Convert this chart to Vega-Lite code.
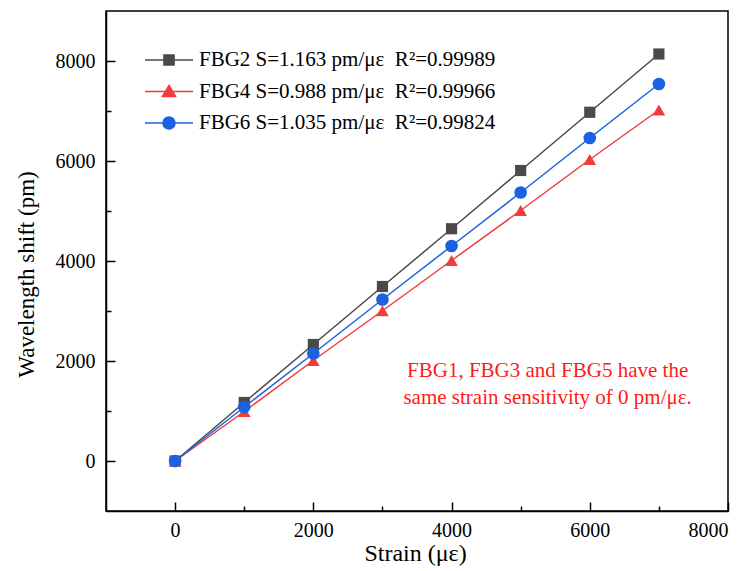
{
  "$schema": "https://vega.github.io/schema/vega-lite/v6.json",
  "width": 622,
  "height": 500,
  "autosize": "none",
  "padding": {"left": 106, "top": 11, "right": 22, "bottom": 60},
  "background": "white",
  "config": {
    "font": "Liberation Serif",
    "view": {"stroke": "black", "strokeWidth": 1.5},
    "legend": {
      "orient": "none",
      "legendX": 52,
      "legendY": 38,
      "padding": 0,
      "title": null,
      "symbolSize": 400,
      "symbolStrokeWidth": 1.6,
      "symbolOpacity": 1,
      "labelFont": "Liberation Serif",
      "labelFontSize": 21,
      "labelColor": "black",
      "labelOffset": 19,
      "rowPadding": 10.5,
      "labelLimit": 0
    },
    "axis": {
      "domainColor": "black",
      "domainWidth": 1.5,
      "tickColor": "black",
      "tickWidth": 1.5,
      "grid": false,
      "labelFont": "Liberation Serif",
      "labelFontSize": 20,
      "labelColor": "black",
      "titleFont": "Liberation Serif",
      "titleFontWeight": "normal",
      "titleColor": "black"
    }
  },
  "data": {
    "values": [
      {"strain": 0, "shift": 0, "series": "FBG2 S=1.163 pm/με\u00a0 R²=0.99989"},
      {"strain": 1000, "shift": 1170, "series": "FBG2 S=1.163 pm/με\u00a0 R²=0.99989"},
      {"strain": 2000, "shift": 2330, "series": "FBG2 S=1.163 pm/με\u00a0 R²=0.99989"},
      {"strain": 3000, "shift": 3490, "series": "FBG2 S=1.163 pm/με\u00a0 R²=0.99989"},
      {"strain": 4000, "shift": 4645, "series": "FBG2 S=1.163 pm/με\u00a0 R²=0.99989"},
      {"strain": 5000, "shift": 5810, "series": "FBG2 S=1.163 pm/με\u00a0 R²=0.99989"},
      {"strain": 6000, "shift": 6975, "series": "FBG2 S=1.163 pm/με\u00a0 R²=0.99989"},
      {"strain": 7000, "shift": 8140, "series": "FBG2 S=1.163 pm/με\u00a0 R²=0.99989"},
      {"strain": 0, "shift": 0, "series": "FBG4 S=0.988 pm/με\u00a0 R²=0.99966"},
      {"strain": 1000, "shift": 990, "series": "FBG4 S=0.988 pm/με\u00a0 R²=0.99966"},
      {"strain": 2000, "shift": 2010, "series": "FBG4 S=0.988 pm/με\u00a0 R²=0.99966"},
      {"strain": 3000, "shift": 3005, "series": "FBG4 S=0.988 pm/με\u00a0 R²=0.99966"},
      {"strain": 4000, "shift": 4010, "series": "FBG4 S=0.988 pm/με\u00a0 R²=0.99966"},
      {"strain": 5000, "shift": 5010, "series": "FBG4 S=0.988 pm/με\u00a0 R²=0.99966"},
      {"strain": 6000, "shift": 6030, "series": "FBG4 S=0.988 pm/με\u00a0 R²=0.99966"},
      {"strain": 7000, "shift": 7020, "series": "FBG4 S=0.988 pm/με\u00a0 R²=0.99966"},
      {"strain": 0, "shift": 0, "series": "FBG6 S=1.035 pm/με\u00a0 R²=0.99824"},
      {"strain": 1000, "shift": 1080, "series": "FBG6 S=1.035 pm/με\u00a0 R²=0.99824"},
      {"strain": 2000, "shift": 2150, "series": "FBG6 S=1.035 pm/με\u00a0 R²=0.99824"},
      {"strain": 3000, "shift": 3230, "series": "FBG6 S=1.035 pm/με\u00a0 R²=0.99824"},
      {"strain": 4000, "shift": 4300, "series": "FBG6 S=1.035 pm/με\u00a0 R²=0.99824"},
      {"strain": 5000, "shift": 5370, "series": "FBG6 S=1.035 pm/με\u00a0 R²=0.99824"},
      {"strain": 6000, "shift": 6460, "series": "FBG6 S=1.035 pm/με\u00a0 R²=0.99824"},
      {"strain": 7000, "shift": 7540, "series": "FBG6 S=1.035 pm/με\u00a0 R²=0.99824"}
    ]
  },
  "layer": [
    {
      "mark": {"type": "line", "strokeWidth": 1.5},
      "encoding": {
        "x": {
          "field": "strain",
          "type": "quantitative",
          "scale": {"domain": [-1000, 8000], "nice": false, "zero": false},
          "axis": {
            "orient": "bottom",
            "title": "Strain (με)",
            "values": [0, 2000, 4000, 6000, 8000],
            "format": "d",
            "tickSize": -9,
            "labelPadding": 18,
            "labelFont": "Liberation Serif",
            "titleFontSize": 24,
            "titleX": 309,
            "titleY": 42,
            "titleBaseline": "middle",
            "titleAlign": "center"
          }
        },
        "y": {
          "field": "shift",
          "type": "quantitative",
          "scale": {"domain": [-1000, 9000], "nice": false, "zero": false},
          "axis": {
            "orient": "left",
            "title": "Wavelength shift (pm)",
            "values": [0, 2000, 4000, 6000, 8000],
            "format": "d",
            "tickSize": -9,
            "labelPadding": 20,
            "labelFont": "Liberation Serif",
            "titleFontSize": 23,
            "titleX": -80,
            "titleY": 263,
            "titleBaseline": "middle",
            "titleAlign": "center",
            "titleAngle": -90
          }
        },
        "color": {
          "field": "series",
          "type": "nominal",
          "scale": {"range": ["#4a4a4a", "#f23c3c", "#1a62e0"]},
          "legend": null
        }
      }
    },
    {
      "transform": [{"filter": "indexof(datum.series, 'FBG2') === 0"}],
      "mark": {"type": "point", "shape": "square", "filled": true, "opacity": 1, "size": 125},
      "encoding": {
        "x": {"field": "strain", "type": "quantitative", "axis": null},
        "y": {"field": "shift", "type": "quantitative", "axis": null},
        "color": {"field": "series", "type": "nominal", "legend": null}
      }
    },
    {
      "transform": [{"filter": "indexof(datum.series, 'FBG4') === 0"}],
      "mark": {"type": "point", "shape": "triangle-up", "filled": true, "opacity": 1, "size": 160},
      "encoding": {
        "x": {"field": "strain", "type": "quantitative", "axis": null},
        "y": {"field": "shift", "type": "quantitative", "axis": null},
        "color": {"field": "series", "type": "nominal", "legend": null}
      }
    },
    {
      "transform": [{"filter": "indexof(datum.series, 'FBG6') === 0"}],
      "mark": {"type": "point", "shape": "circle", "filled": true, "opacity": 1, "size": 160},
      "encoding": {
        "x": {"field": "strain", "type": "quantitative", "axis": null},
        "y": {"field": "shift", "type": "quantitative", "axis": null},
        "color": {"field": "series", "type": "nominal", "legend": null}
      }
    },
    {
      "mark": {"type": "point", "filled": true, "opacity": 0, "size": 400},
      "encoding": {
        "x": {
          "field": "strain",
          "type": "quantitative",
          "axis": {"orient": "bottom", "values": [1000, 3000, 5000, 7000], "tickSize": -5, "labels": false, "domain": false, "title": null}
        },
        "y": {
          "field": "shift",
          "type": "quantitative",
          "axis": {"orient": "left", "values": [1000, 3000, 5000, 7000], "tickSize": -5, "labels": false, "domain": false, "title": null}
        },
        "fill": {
          "field": "series",
          "type": "nominal",
          "scale": {"range": ["#4a4a4a", "#f23c3c", "#1a62e0"]}
        },
        "stroke": {
          "field": "series",
          "type": "nominal",
          "scale": {"range": ["#4a4a4a", "#f23c3c", "#1a62e0"]}
        },
        "shape": {
          "field": "series",
          "type": "nominal",
          "scale": {
            "range": [
              "M-2.4,0H2.4M-0.5,-0.5H0.5V0.5H-0.5Z",
              "M-2.4,0H2.4M0,-0.6L0.65,0.5H-0.65Z",
              "M-2.4,0H2.4M-0.6,0A0.6,0.6 0 1,0 0.6,0A0.6,0.6 0 1,0 -0.6,0Z"
            ]
          }
        }
      }
    },
    {
      "data": {"values": [{}]},
      "mark": {
        "type": "text",
        "color": "#ff1a1a",
        "fontSize": 21,
        "font": "Liberation Serif",
        "align": "center",
        "baseline": "middle",
        "lineHeight": 27,
        "text": ["FBG1, FBG3 and FBG5 have the", "same strain sensitivity of 0 pm/με."]
      },
      "encoding": {
        "x": {"datum": 5390, "type": "quantitative", "axis": null},
        "y": {"datum": 1800, "type": "quantitative", "axis": null}
      }
    }
  ],
  "resolve": {"axis": {"x": "independent", "y": "independent"}}
}
